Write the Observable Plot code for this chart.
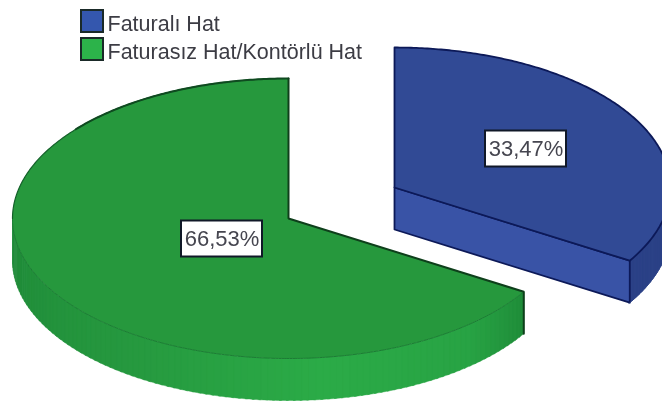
<!DOCTYPE html>
<html>
<head>
<meta charset="utf-8">
<script src="https://cdn.jsdelivr.net/npm/d3@7"></script>
<script src="https://cdn.jsdelivr.net/npm/@observablehq/plot@0.6"></script>
<style>
html,body{margin:0;padding:0;background:#fff;overflow:hidden}
svg{display:block;filter:blur(0.7px)}
</style>
</head>
<body>
<div id="chart"></div>
<script>
const categories = ["Faturalı Hat", "Faturasız Hat/Kontörlü Hat"];
const shares = [33.47, 66.53];
const shareLabels = ["33,47%", "66,53%"];

const W = 662, H = 401;
const RX = 276, RY = 140, DEPTH = 42;
const centers = [[394, 187], [288, 218]];
const labelPos = [[525.5, 148.5], [221.5, 238.5]];
const legendX = 81, legendSize = 22, legendY = [10, 38];
const VIEW_TILT = 0.018;   // small projection correction of the 3D view, radians

const total = d3.sum(shares);
const cut = shares[0] / total * 2 * Math.PI + VIEW_TILT;      // angle clockwise from the top
const spans = [[0, cut], [cut, 2 * Math.PI]];

const pt = (c, a, dy = 0) => ({x: c[0] + RX * Math.sin(a), y: c[1] - RY * Math.cos(a) + dy});
const arc = (c, a0, a1, dy = 0) => {
  const n = Math.max(2, Math.ceil(Math.abs(a1 - a0) / 0.01));
  return d3.range(n + 1).map(i => pt(c, a0 + (a1 - a0) * i / n, dy));
};
const withKey = (pts, key, color) => pts.map(p => ({...p, key, color}));
const sector = (c, a0, a1) => [{x: c[0], y: c[1]}, ...arc(c, a0, a1)];
const wallStrips = (c, a0, a1, colorAt, prefix) => {
  const steps = Math.ceil((a1 - a0) / 0.025), out = [];
  for (let i = 0; i < steps; i++) {
    const s = a0 + (a1 - a0) * i / steps, e = a0 + (a1 - a0) * (i + 1.3) / steps;
    const col = colorAt((i + .5) / steps);
    out.push(...withKey([...arc(c, s, e), ...arc(c, e, s, DEPTH)], prefix + i, col));
  }
  return out;
};

const [cB, cG] = centers;
const greenWallColor = d3.scaleLinear().domain([0, .12, .35, .62, 1]).range(["#1f8c39", "#28a344", "#2bab47", "#26993f", "#1f8a39"]);
const polyOpts = {x: "x", y: "y", z: "key", fill: "color", stroke: "color", strokeWidth: .4, curve: "linear-closed"};

const greenWall = wallStrips(cG, spans[1][0], 1.5 * Math.PI, greenWallColor, "g");
const greenTop = withKey(sector(cG, ...spans[1]), "gt", "#26983d");
const blueCurve = wallStrips(cB, Math.PI / 2, spans[0][1], () => "#2b4187", "b");
const blueEnd = pt(cB, cut);
const blueFace = withKey([{x: cB[0], y: cB[1]}, blueEnd, {x: blueEnd.x, y: blueEnd.y + DEPTH}, {x: cB[0], y: cB[1] + DEPTH}], "bf", "#3953a6");
const blueTop = withKey(sector(cB, ...spans[0]), "bt", "#314a95");
const gEnd = pt(cG, cut);

const rows = categories.map((name, i) => ({name, share: shares[i], label: shareLabels[i],
  c: ["#3457ae", "#2cb34a"][i], y: legendY[i], lx: labelPos[i][0], ly: labelPos[i][1]}));

const plot = Plot.plot({
  width: W, height: H,
  margin: 0,
  x: {domain: [0, W], range: [0, W], axis: null},
  y: {domain: [0, H], range: [0, H], axis: null},
  color: {type: "identity"},
  style: {background: "#fff", fontFamily: "'Liberation Sans', Arial, sans-serif"},
  marks: [
    Plot.line(greenWall, polyOpts),
    Plot.line(greenTop, {...polyOpts, strokeWidth: 0}),
    Plot.line(arc(cG, cut, 1.5 * Math.PI), {x: "x", y: "y", stroke: "#1c7d34", strokeWidth: 1}),
    Plot.line(arc(cG, 1.5 * Math.PI, 2 * Math.PI), {x: "x", y: "y", stroke: "#14602a", strokeWidth: 1.2}),
    Plot.line(arc(cG, 1.72 * Math.PI, 2 * Math.PI), {x: "x", y: "y", stroke: "#0f4a20", strokeWidth: 2}),
    Plot.line([{x: cG[0], y: cG[1] - RY}, {x: cG[0], y: cG[1]}, gEnd, {x: gEnd.x, y: gEnd.y + DEPTH}],
      {x: "x", y: "y", stroke: "#0e3f1b", strokeWidth: 2, strokeLinejoin: "miter"}),

    Plot.line(blueCurve, polyOpts),
    Plot.line(blueFace, {...polyOpts, stroke: "#0c1958", strokeWidth: 1.8}),
    Plot.line(blueTop, {...polyOpts, stroke: "#0c1958", strokeWidth: 1.8}),
    Plot.line([{x: blueEnd.x, y: blueEnd.y + DEPTH}, ...arc(cB, cut, Math.PI / 2, DEPTH)],
      {x: "x", y: "y", stroke: "#2b4187", strokeWidth: 1}),

    Plot.rect(rows, {x1: d => d.lx - 40.5, x2: d => d.lx + 40.5, y1: d => d.ly - 18, y2: d => d.ly + 18,
      fill: "#fff", stroke: "#101828", strokeWidth: 2}),
    Plot.text(rows, {x: "lx", y: "ly", text: "label", fontSize: 22, fill: "#45454f", textAnchor: "middle", lineAnchor: "middle"}),

    Plot.rect(rows, {x1: legendX, x2: legendX + legendSize, y1: "y", y2: d => d.y + legendSize,
      fill: "c", stroke: "#1a2a28", strokeWidth: 2}),
    Plot.text(rows, {x: legendX + legendSize + 4, y: d => d.y + legendSize / 2 + 3, text: "name", fontSize: 21.5,
      fill: "#3c3c44", textAnchor: "start", lineAnchor: "middle"})
  ]
});
document.getElementById("chart").append(plot);
</script>
</body>
</html>
